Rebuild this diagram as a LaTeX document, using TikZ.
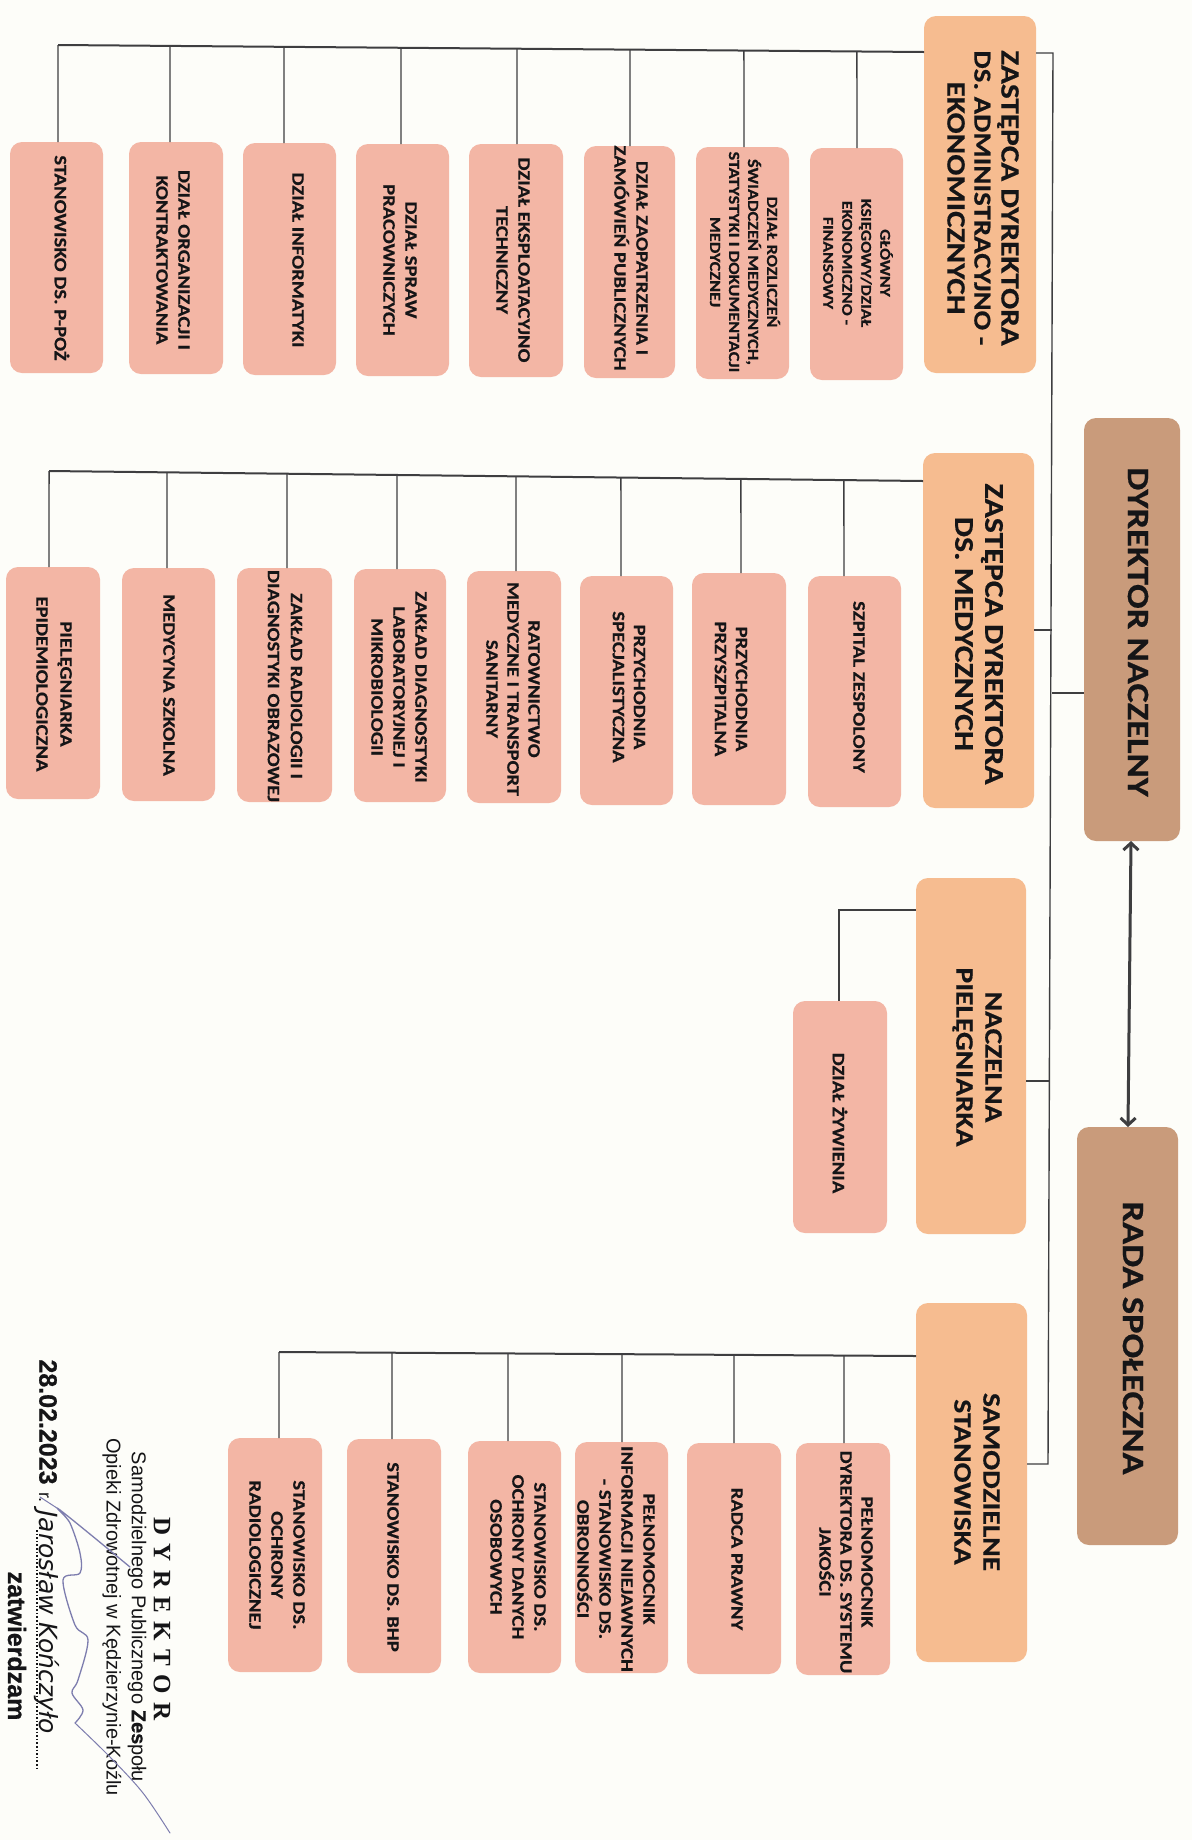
\documentclass[tikz,border=0pt]{standalone}
\usepackage{fontspec}
\setmainfont{Carlito}[FakeStretch=1.18,BoldFeatures={FakeBold=0.5}]
\newfontfamily\serifb{Liberation Serif}
\newfontfamily\arialf{Liberation Sans}[BoldFeatures={FakeBold=0.8}]
\newfontfamily\obliq{DejaVu Sans}
\usetikzlibrary{calc,arrows.meta}
\definecolor{paper}{HTML}{FDFDF9}
\definecolor{kid}{HTML}{F3B6A5}
\definecolor{boss}{HTML}{F6BC90}
\definecolor{top}{HTML}{C99B7B}
\definecolor{ink}{HTML}{151517}
\definecolor{wire}{HTML}{3E3E40}
\definecolor{sign}{HTML}{7D7DAE}
\newcommand{\fs}[2]{\fontsize{#1}{#2}\selectfont\bfseries}
\newcommand{\bx}[6]{%
  \pgfmathsetmacro\bw{#5-#3}\pgfmathsetmacro\bh{#6-#4}%
  \pgfmathsetmacro\bcx{(#3+#5)/2}\pgfmathsetmacro\bcy{(#4+#6)/2}%
  \node[#2,minimum width=\bw pt,minimum height=\bh pt] (#1) at (\bcx,\bcy) {};}
\newcommand{\tx}[5]{\node[lbl,font=#2] (#1) at (#3,#4) {#5};}
\tikzset{
  x=1pt,y=-1pt,
  shapebox/.style={inner sep=0pt,outer sep=0pt,rounded corners=12pt},
  kidbox/.style={shapebox,fill=kid},
  bossbox/.style={shapebox,fill=boss},
  topbox/.style={shapebox,fill=top},
  lbl/.style={rotate=-90,align=center,inner sep=0pt,text=ink},
  plain/.style={rotate=-90,inner sep=0pt,text=ink},
  conn/.style={draw=wire,line width=1.4pt},
  bus/.style={draw=wire,line width=2pt},
}
\begin{document}
\begin{tikzpicture}
\useasboundingbox (0,0) rectangle (1192,1840);
\fill[paper] (0,0) rectangle (1192,1840);

% Boxes: group 1
\bx{a0}{kidbox}{10}{142}{103}{373}
\bx{a1}{kidbox}{129}{142}{223}{374}
\bx{a2}{kidbox}{243}{143}{336}{375}
\bx{a3}{kidbox}{356}{144}{449}{376}
\bx{a4}{kidbox}{469}{144}{563}{377}
\bx{a5}{kidbox}{584}{146}{675}{378}
\bx{a6}{kidbox}{696}{147}{789}{379}
\bx{a7}{kidbox}{810}{148}{903}{380}
\bx{adm}{bossbox}{924}{16}{1036}{373}
% group 2
\bx{b0}{kidbox}{6}{567}{100}{799}
\bx{b1}{kidbox}{122}{568}{215}{801}
\bx{b2}{kidbox}{237}{568}{332}{802}
\bx{b3}{kidbox}{354}{569}{446}{802}
\bx{b4}{kidbox}{467}{571}{561}{803}
\bx{b5}{kidbox}{580}{576}{673}{805}
\bx{b6}{kidbox}{692}{573}{786}{805}
\bx{b7}{kidbox}{808}{576}{901}{807}
\bx{med}{bossbox}{923}{453}{1034}{808}
% group 3
\bx{zyw}{kidbox}{793}{1001}{887}{1233}
\bx{nac}{bossbox}{916}{878}{1026}{1234}
% group 4
\bx{c0}{kidbox}{228}{1438}{322}{1672}
\bx{c1}{kidbox}{347}{1439}{441}{1673}
\bx{c2}{kidbox}{468}{1441}{561}{1673}
\bx{c3}{kidbox}{575}{1442}{668}{1673}
\bx{c4}{kidbox}{687}{1443}{781}{1674}
\bx{c5}{kidbox}{796}{1443}{890}{1675}
\bx{sam}{bossbox}{916}{1303}{1027}{1662}
% top
\bx{dyr}{topbox}{1084}{418}{1180}{841}
\bx{rada}{topbox}{1077}{1127}{1178}{1545}

% Spine
\coordinate (sT) at (1053,53);
\coordinate (sB) at (1048,1464);
\coordinate (s1) at (1052,630);
\coordinate (s2) at (1052,693);
\coordinate (s3) at (1049,1081);
\draw[conn] (adm.east |- sT) -- (sT) -- (sB) -- (sam.east |- sB);
\draw[conn] (med.east |- s1) -- (s1);
\draw[conn] (s2) -- (dyr.west |- s2);
\draw[conn] (nac.east |- s3) -- (s3);
\coordinate (ar1) at (1131,841);
\coordinate (ar2) at (1128,1127);
\draw[draw=wire,line width=3pt,{Straight Barb[length=7pt,width=15pt]}-{Straight Barb[length=7pt,width=15pt]}] (ar1) -- (ar2);

% Buses
\coordinate (aL) at (58,45);
\coordinate (aR) at (924,52);
\draw[bus] (aL) -- (aR);
\foreach \c/\x in {a0/58,a1/170,a2/284,a3/401,a4/517,a5/630,a6/744,a7/857}
  \draw[conn] ($(aL)!(\x,50)!(aR)$) -- (\x,0 |- \c.north);
\coordinate (bL) at (49,471);
\coordinate (bR) at (923,481);
\draw[bus] (bL) -- (bR);
\foreach \c/\x in {b0/49,b1/167,b2/287,b3/397,b4/516,b5/621,b6/741,b7/844}
  \draw[conn] ($(bL)!(\x,476)!(bR)$) -- (\x,0 |- \c.north);
\coordinate (cL) at (279,1352);
\coordinate (cR) at (916,1356);
\draw[bus] (cL) -- (cR);
\foreach \c/\x in {c0/279,c1/392,c2/508,c3/622,c4/734,c5/844}
  \draw[conn] ($(cL)!(\x,1354)!(cR)$) -- (\x,0 |- \c.north);
\coordinate (nL) at (839,910);
\draw[bus] (nac.west |- nL) -- (nL) -- (839,0 |- zyw.north);

% Texts
\tx{ta0}{\fs{17.5}{22}}{62}{258}{STANOWISKO DS. P-POŻ}
\tx{ta1}{\fs{17.5}{22}}{173}{260}{DZIAŁ ORGANIZACJI I\\KONTRAKTOWANIA}
\tx{ta2}{\fs{17.5}{22}}{298}{260}{DZIAŁ INFORMATYKI}
\tx{ta3}{\fs{17.5}{22}}{400}{260}{DZIAŁ SPRAW\\PRACOWNICZYCH}
\tx{ta4}{\fs{17.5}{22}}{513}{260}{DZIAŁ EKSPLOATACYJNO\\TECHNICZNY}
\tx{ta5}{\fs{17.5}{22}}{631}{258}{DZIAŁ ZAOPATRZENIA I\\ZAMÓWIEŃ PUBLICZNYCH}
\tx{ta6}{\fs{15.5}{19}}{745}{262}{DZIAŁ ROZLICZEŃ\\ŚWIADCZEŃ MEDYCZNYCH,\\STATYSTYKI I DOKUMENTACJI\\MEDYCZNEJ}
\tx{ta7}{\fs{15}{19}}{858}{263}{GŁÓWNY\\KSIĘGOWY/DZIAŁ\\EKONOMICZNO -\\FINANSOWY}
\tx{tadm}{\fs{26.5}{27}}{983}{198}{ZASTĘPCA DYREKTORA\\{\fontsize{24.5}{27}\selectfont DS. ADMINISTRACYJNO -}\\EKONOMICZNYCH}

\tx{tb0}{\fs{17.5}{24}}{54}{684}{PIELĘGNIARKA\\EPIDEMIOLOGICZNA}
\tx{tb1}{\fs{17.5}{22}}{169}{685}{MEDYCYNA SZKOLNA}
\tx{tb2}{\fs{17.5}{23}}{285}{686}{ZAKŁAD RADIOLOGII I\\DIAGNOSTYKI OBRAZOWEJ}
\tx{tb3}{\fs{17.5}{22}}{399}{687}{ZAKŁAD DIAGNOSTYKI\\LABORATORYJNEJ I\\MIKROBIOLOGII}
\tx{tb4}{\fs{17.5}{21}}{513}{689}{RATOWNICTWO\\MEDYCZNE I TRANSPORT\\SANITARNY}
\tx{tb5}{\fs{17.5}{21}}{629}{687}{PRZYCHODNIA\\SPECJALISTYCZNA}
\tx{tb6}{\fs{17.5}{21}}{731}{689}{PRZYCHODNIA\\PRZYSZPITALNA}
\tx{tb7}{\fs{17.5}{22}}{859}{687}{SZPITAL ZESPOLONY}
\tx{tmed}{\fs{27}{30}}{979}{634}{ZASTĘPCA DYREKTORA\\DS. MEDYCZNYCH}
\tx{tdyr}{\fs{31}{30}}{1138}{632}{DYREKTOR NACZELNY}

\tx{tzyw}{\fs{17.5}{22}}{840}{1123}{DZIAŁ ŻYWIENIA}
\tx{tnac}{\fs{25}{29}}{977}{1057}{NACZELNA\\PIELĘGNIARKA}
\tx{trada}{\fs{31}{30}}{1133}{1338}{RADA SPOŁECZNA}

\tx{tc0}{\fs{17.5}{22}}{277}{1555}{STANOWISKO DS.\\OCHRONY\\RADIOLOGICZNEJ}
\tx{tc1}{\fs{17.5}{22}}{393}{1557}{STANOWISKO DS. BHP}
\tx{tc2}{\fs{17.5}{22}}{518}{1557}{STANOWISKO DS.\\OCHRONY DANYCH\\OSOBOWYCH}
\tx{tc3}{\fs{17.5}{22}}{616}{1559}{PEŁNOMOCNIK\\INFORMACJI NIEJAWNYCH\\- STANOWISKO DS.\\OBRONNOŚCI}
\tx{tc4}{\fs{17.5}{22}}{737}{1559}{RADCA PRAWNY}
\tx{tc5}{\fs{17.5}{21}}{846}{1562}{PEŁNOMOCNIK\\DYREKTORA DS. SYSTEMU\\JAKOŚCI}
\tx{tsam}{\fs{25}{29}}{977}{1482}{SAMODZIELNE\\STANOWISKA}

% Approval stamp
\node[plain,font={\serifb\fontsize{25}{25}\selectfont\bfseries}] (st1) at (162,1619) {D\,\,Y\,\,R\,\,E\,\,K\,\,T\,\,O\,\,R};
\node[plain,font={\arialf\fontsize{20}{22}\selectfont}] (st2) at (137,1617) {Samodzielnego Publicznego \textbf{Zes}połu};
\node[plain,font={\arialf\fontsize{20}{22}\selectfont}] (st3) at (112,1617) {Opieki Zdrowotnej w Kędzierzynie-Koźlu};
\node[plain,font={\arialf\fontsize{25}{25}\selectfont\bfseries}] (st4) at (48,1422) {28.02.2023};
\node[plain,font={\arialf\fontsize{18}{18}\selectfont}] (st5) at (44,1497) {r.};
\node[plain,font={\obliq\fontsize{25}{25}\selectfont\itshape}] (st6) at (47,1622) {Jarosław Kończyło};
\draw[line width=1.6pt,dotted,draw=ink] (37,1530) -- (37,1770);
\node[plain,font={\arialf\fontsize{25}{25}\selectfont\bfseries}] (st7) at (17,1646) {zatwierdzam};
\draw[sign,line width=1.3pt,line join=round,line cap=round]
  plot[smooth,tension=0.55] coordinates {(130,1567) (60,1510) (70,1523) (80,1553) (80,1573) (63,1580) (75,1625) (88,1640) (78,1680) (72,1693) (83,1710) (75,1723)};
\draw[sign,line width=1pt,line cap=round]
  plot[smooth,tension=0.55] coordinates {(75,1723) (110,1757) (143,1793) (170,1833)};
\draw[sign,line width=1pt,line cap=round] (60,1510) -- (40,1497);
\end{tikzpicture}
\end{document}
